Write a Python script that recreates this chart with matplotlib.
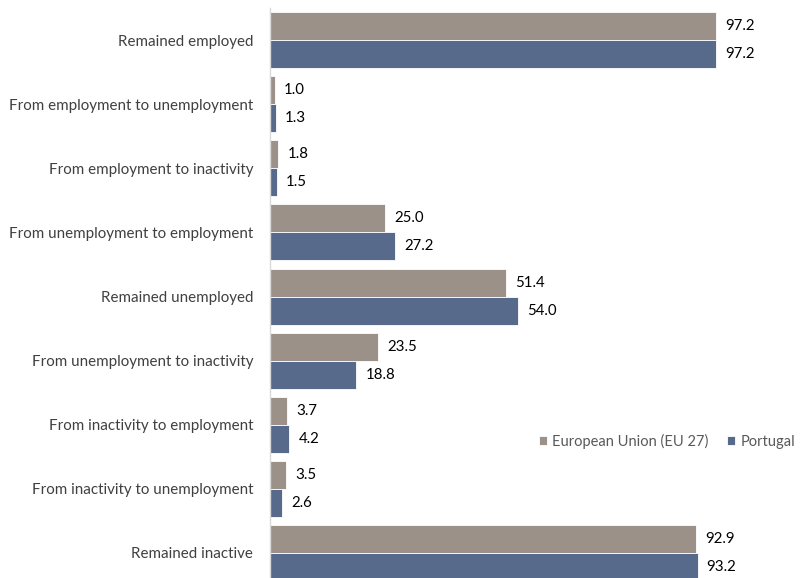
import matplotlib
matplotlib.use("Agg")
import matplotlib.pyplot as plt
import numpy as np

plt.rcParams['font.family'] = ['Lato', 'DejaVu Sans']

categories = [
    "Remained employed",
    "From employment to unemployment",
    "From employment to inactivity",
    "From unemployment to employment",
    "Remained unemployed",
    "From unemployment to inactivity",
    "From inactivity to employment",
    "From inactivity to unemployment",
    "Remained inactive",
]
eu27 = [97.2, 1.0, 1.8, 25.0, 51.4, 23.5, 3.7, 3.5, 92.9]
portugal = [97.2, 1.3, 1.5, 27.2, 54.0, 18.8, 4.2, 2.6, 93.2]
series_names = ["European Union (EU 27)", "Portugal"]

eu_color = "#9c9189"
pt_color = "#576a8b"

fig = plt.figure(figsize=(8.04, 5.78), dpi=100)
ax = fig.add_axes([270 / 804, 0.0, 1 - 270 / 804, 1 - 8 / 578])

y = np.arange(len(categories))
h = 0.437
ax.barh(y - h / 2, eu27, height=h, color=eu_color, edgecolor="white", linewidth=0.6, label=series_names[0])
ax.barh(y + h / 2, portugal, height=h, color=pt_color, edgecolor="white", linewidth=0.6, label=series_names[1])

for yi, v in zip(y - h / 2, eu27):
    ax.text(v + 2.0, yi, f"{v:.1f}", va="center", ha="left", fontsize=10.8, color="#000000")
for yi, v in zip(y + h / 2, portugal):
    ax.text(v + 2.0, yi, f"{v:.1f}", va="center", ha="left", fontsize=10.8, color="#000000")

ax.set_xlim(0, 116.4)
ax.set_ylim(8.39, -0.5)
ax.set_yticks(y)
ax.set_yticklabels(categories, fontsize=10.9, color="#404040")
ax.tick_params(axis="y", length=0, pad=12)
ax.set_xticks([])
for s in ["top", "right", "bottom"]:
    ax.spines[s].set_visible(False)
ax.spines["left"].set_color("#d9d9d9")
ax.spines["left"].set_linewidth(1.0)

leg = ax.legend(loc="center left", bbox_to_anchor=(0.503, 0.240), ncol=2, frameon=False,
                fontsize=10.5, handlelength=0.55, handleheight=0.55, handletextpad=0.35,
                columnspacing=1.3, labelcolor="#595959", borderaxespad=0, borderpad=0)

fig.savefig("out.png", dpi=100)
